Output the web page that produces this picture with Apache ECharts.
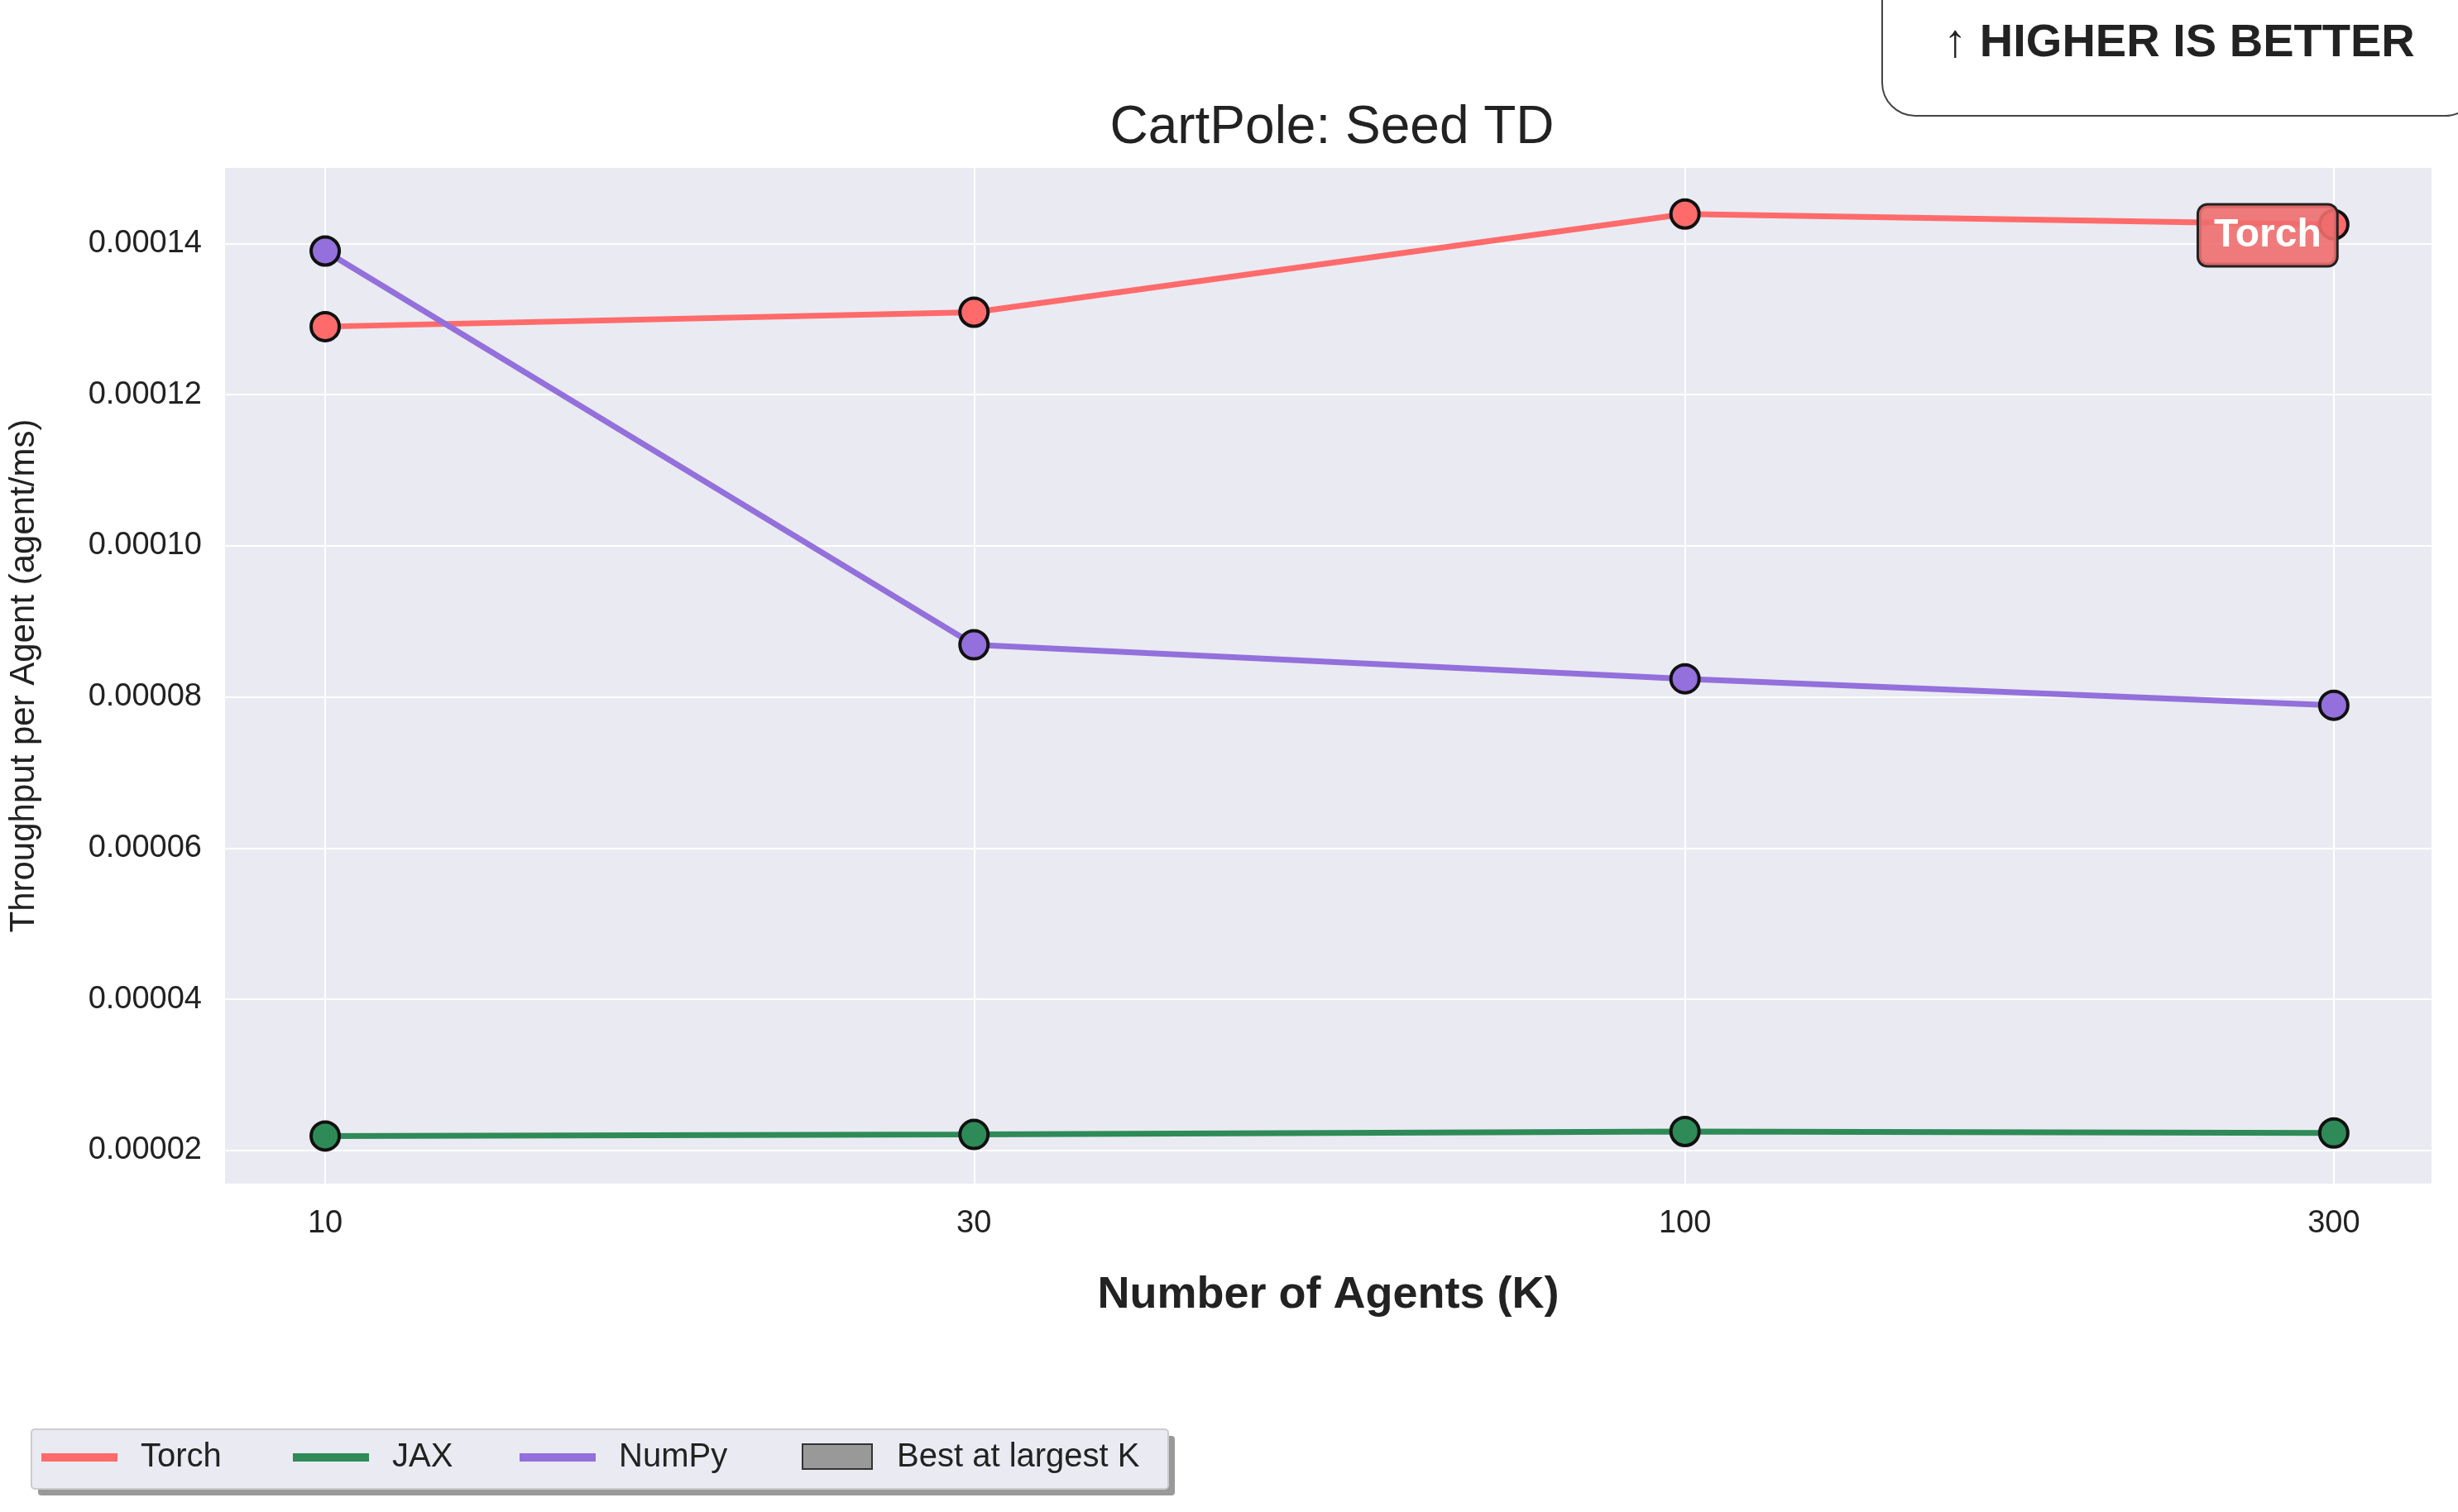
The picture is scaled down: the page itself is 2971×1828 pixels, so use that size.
<!DOCTYPE html>
<html lang="en">
<head>
<meta charset="UTF-8">
<title>CartPole: Seed TD</title>
<script src="https://cdn.jsdelivr.net/npm/echarts@6/dist/echarts.min.js"></script>
<style>html,body{margin:0;padding:0;background:#fff}</style>
</head>
<body>
<div id="main" style="width:2971px;height:1828px;"></div>
<script>
var agents = [10, 30, 100, 300];
var torch = [0.0001290, 0.0001309, 0.0001439, 0.0001425];
var jax   = [0.0000219, 0.0000221, 0.0000225, 0.0000223];
var numpy = [0.0001390, 0.0000869, 0.0000824, 0.0000789];
var yTicks = [0.00002, 0.00004, 0.00006, 0.00008, 0.00010, 0.00012, 0.00014];

var FONT = 'Liberation Sans';
var chart = echarts.init(document.getElementById('main'));

function pairs(vals) { return agents.map(function (k, i) { return [k, vals[i]]; }); }

function series(name, color, vals) {
  return {
    name: name, type: 'line', data: pairs(vals),
    lineStyle: { color: color, width: 7 },
    itemStyle: { color: color, borderColor: '#111', borderWidth: 4 },
    symbol: 'circle', symbolSize: 34, z: 3
  };
}

var torchSeries = series('Torch', '#ff6b6b', torch);
torchSeries.data[3] = {
  value: torchSeries.data[3],
  label: {
    show: true, formatter: 'Torch', position: 'inside', offset: [-80, 13],
    color: '#fff', fontFamily: FONT, fontWeight: 'bold', fontSize: 48,
    backgroundColor: 'rgba(240,110,110,0.9)', borderColor: '#222', borderWidth: 3,
    borderRadius: 10, padding: [14, 18, 10, 18]
  }
};

chart.setOption({
  backgroundColor: '#fff',
  animation: false,
  title: {
    text: 'CartPole: Seed TD', left: 1605, top: 118, textAlign: 'center',
    textStyle: { fontFamily: FONT, fontWeight: 'normal', fontSize: 64, color: '#222' }
  },
  grid: { left: 271, top: 203, width: 2668, height: 1228, show: true, backgroundColor: '#eaeaf2', borderWidth: 0 },
  xAxis: {
    type: 'log', logBase: 10, min: 8.44, max: 354,
    name: 'Number of Agents (K)', nameLocation: 'middle', nameGap: 108,
    nameTextStyle: { fontFamily: FONT, fontWeight: 'bold', fontSize: 54, color: '#222' },
    axisLine: { show: false },
    axisTick: { show: false, customValues: agents },
    axisLabel: { customValues: agents, fontFamily: FONT, fontSize: 38, color: '#222', margin: 30 },
    splitLine: { show: true, lineStyle: { color: '#fff', width: 2 } },
    minorSplitLine: { show: false }
  },
  yAxis: {
    type: 'value', min: 0.0000156, max: 0.00015,
    name: 'Throughput per Agent (agent/ms)', nameLocation: 'middle', nameGap: 222,
    nameTextStyle: { fontFamily: FONT, fontSize: 42, color: '#222' },
    axisLine: { show: false },
    axisTick: { show: false, customValues: yTicks },
    axisLabel: {
      customValues: yTicks, fontFamily: FONT, fontSize: 38, color: '#222', margin: 28,
      formatter: function (v) { return v.toFixed(5); }
    },
    splitLine: { show: true, lineStyle: { color: '#fff', width: 2 } }
  },
  series: [
    torchSeries,
    series('JAX', '#2e8b57', jax),
    series('NumPy', '#9370db', numpy)
  ],
  graphic: [
    { type: 'rect', shape: { x: 2275, y: -40, width: 720, height: 180, r: 40 },
      style: { fill: '#fff', stroke: '#444', lineWidth: 2 } },
    { type: 'text', x: 2634, y: 53,
      style: { text: '\u2191 HIGHER IS BETTER', fill: '#222', font: 'bold 56px "Liberation Sans"', align: 'center', verticalAlign: 'middle' } },
    // legend
    { type: 'rect', shape: { x: 46, y: 1736, width: 1374, height: 72, r: 4 }, style: { fill: '#999' } },
    { type: 'rect', shape: { x: 38, y: 1728, width: 1374, height: 72, r: 4 }, style: { fill: '#eaeaf2', stroke: '#ccc', lineWidth: 2 } },
    { type: 'line', shape: { x1: 50, y1: 1762, x2: 142, y2: 1762 }, style: { stroke: '#ff6b6b', lineWidth: 10 } },
    { type: 'text', x: 170, y: 1762, style: { text: 'Torch', fill: '#222', font: '40px "Liberation Sans"', verticalAlign: 'middle' } },
    { type: 'line', shape: { x1: 354, y1: 1762, x2: 446, y2: 1762 }, style: { stroke: '#2e8b57', lineWidth: 10 } },
    { type: 'text', x: 474, y: 1762, style: { text: 'JAX', fill: '#222', font: '40px "Liberation Sans"', verticalAlign: 'middle' } },
    { type: 'line', shape: { x1: 628, y1: 1762, x2: 720, y2: 1762 }, style: { stroke: '#9370db', lineWidth: 10 } },
    { type: 'text', x: 748, y: 1762, style: { text: 'NumPy', fill: '#222', font: '40px "Liberation Sans"', verticalAlign: 'middle' } },
    { type: 'rect', shape: { x: 970, y: 1746, width: 84, height: 30 }, style: { fill: '#999', stroke: '#333', lineWidth: 2 } },
    { type: 'text', x: 1084, y: 1762, style: { text: 'Best at largest K', fill: '#222', font: '40px "Liberation Sans"', verticalAlign: 'middle' } }
  ]
});
</script>
</body>
</html>
